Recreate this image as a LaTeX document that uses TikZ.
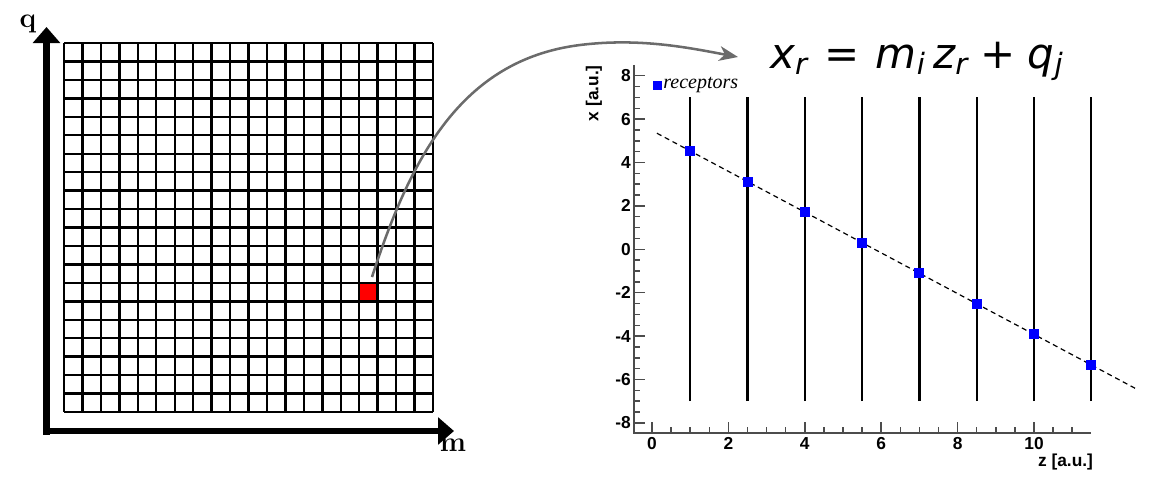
\documentclass[tikz,border=0pt]{standalone}
\usepackage{fontspec}
\newfontfamily\axfont{Liberation Sans}
\newfontfamily\eqfont{DejaVu Sans}
\newfontfamily\legfont{Liberation Serif}
\usetikzlibrary{arrows.meta}
\newcommand{\eqsub}[1]{\raisebox{-4.5pt}{\fontsize{22}{24}\selectfont #1}}
\tikzset{
  gridline/.style={line width=1.8pt, black},
  bigaxis/.style={line width=5.2pt, black, -{Triangle[length=12pt,width=20pt]}},
  bigaxlabel/.style={font=\bfseries\fontsize{21}{24}\selectfont, inner sep=0pt},
  link/.style={line width=1.9pt, black!58, -{Stealth[length=14pt,width=11pt,inset=4pt]}},
  plotaxis/.style={line width=1.1pt, black!70},
  ticklab/.style={font=\axfont\bfseries\fontsize{13}{15}\selectfont, inner sep=0pt},
  detline/.style={line width=1.7pt, black},
  fitline/.style={line width=0.9pt, black, dash pattern=on 3.8pt off 2.8pt},
  rec/.style={fill=blue, draw=none, minimum size=7.5pt, inner sep=0pt},
}
\begin{document}
\begin{tikzpicture}[x=0.75pt, y=-0.75pt]
\useasboundingbox (0,0) rectangle (1162,479);
% ---- left: parameter grid ----
\node[fill=red, draw=none, minimum size=13.8pt, inner sep=0pt] (cell) at (368.4,292.1) {};
\foreach \i in {0,...,20} {
  \draw[gridline] (64+\i*18.45,43) -- (64+\i*18.45,412);
  \draw[gridline] (64,43+\i*18.45) -- (433,43+\i*18.45);
}
\coordinate (qbase) at (46.5,434.5);
\coordinate (qtip) at (46.5,27);
\coordinate (mbase) at (43,431);
\coordinate (mtip) at (454,431);
\draw[bigaxis] (qbase) -- (qtip);
\draw[bigaxis] (mbase) -- (mtip);
\node[bigaxlabel] (qlab) at (28,24) {q};
\node[bigaxlabel] (mlab) at (453,445) {m};
% ---- connector ----
\coordinate (start) at (372,277);
\coordinate (tip) at (738,57);
\draw[link] (start) .. controls (410,160) and (460,60) .. (580,45)
   .. controls (640,37.5) and (690,48) .. (tip);
% ---- formula ----
\node[anchor=base west, inner sep=0pt] (eq) at (770,68)
 {\eqfont\fontsize{31.5}{34}\selectfont\itshape x\eqsub{r}\upshape\hspace{0.42em}=\hspace{0.38em}\itshape m\eqsub{i}\hspace{0.2em}z\eqsub{r}\upshape\hspace{0.3em}+\hspace{0.3em}\itshape q\eqsub{j}};
% ---- right: plot ----
\begin{scope}[shift={(489pt,-186.975pt)}, x=28.65pt, y=16.275pt]
  \draw[plotaxis] (-0.47,8.5) -- (-0.47,-8.46) -- (11.5,-8.46);
  \foreach \z in {0.5,1,...,11} \draw[plotaxis] (\z,-8.46) -- ++(0,0.28);
  \foreach \z in {0,2,...,10} {
    \draw[plotaxis] (\z,-8.46) -- ++(0,0.51);
    \node[ticklab] (xt\z) at (\z,-8.95) {\z};
  }
  \foreach \y in {-8,-7.5,...,8} \draw[plotaxis] (-0.47,\y) -- ++(0.16,0);
  \foreach \y in {-8,-6,...,8} {
    \draw[plotaxis] (-0.47,\y) -- ++(0.29,0);
    \node[ticklab, anchor=east] (yt\y) at (-0.55,\y) {\y};
  }
  \node[ticklab, rotate=90, anchor=east] (ylab) at (-1.52,8.49) {x [a.u.]};
  \node[ticklab, anchor=east] (xlab) at (11.55,-9.8) {z [a.u.]};
  \foreach \z in {1,2.5,...,11.5} \draw[detline] (\z,-7) -- (\z,7);
  \coordinate (f0) at (0.13,{5.47-0.939*0.13});
  \coordinate (f1) at (12.72,{5.47-0.939*12.72});
  \draw[fitline] (f0) -- (f1);
  \foreach \z [count=\k] in {1,2.5,...,11.5}
    \node[rec] (r\k) at (\z,{5.47-0.939*\z}) {};
  \node[rec, minimum size=6.2pt] (legsq) at (0.144,7.55) {};
  \node[anchor=west, inner sep=0pt, font=\legfont\itshape\fontsize{15}{17}\selectfont] (legtxt) at (0.29,7.55) {receptors};
\end{scope}
\end{tikzpicture}
\end{document}
